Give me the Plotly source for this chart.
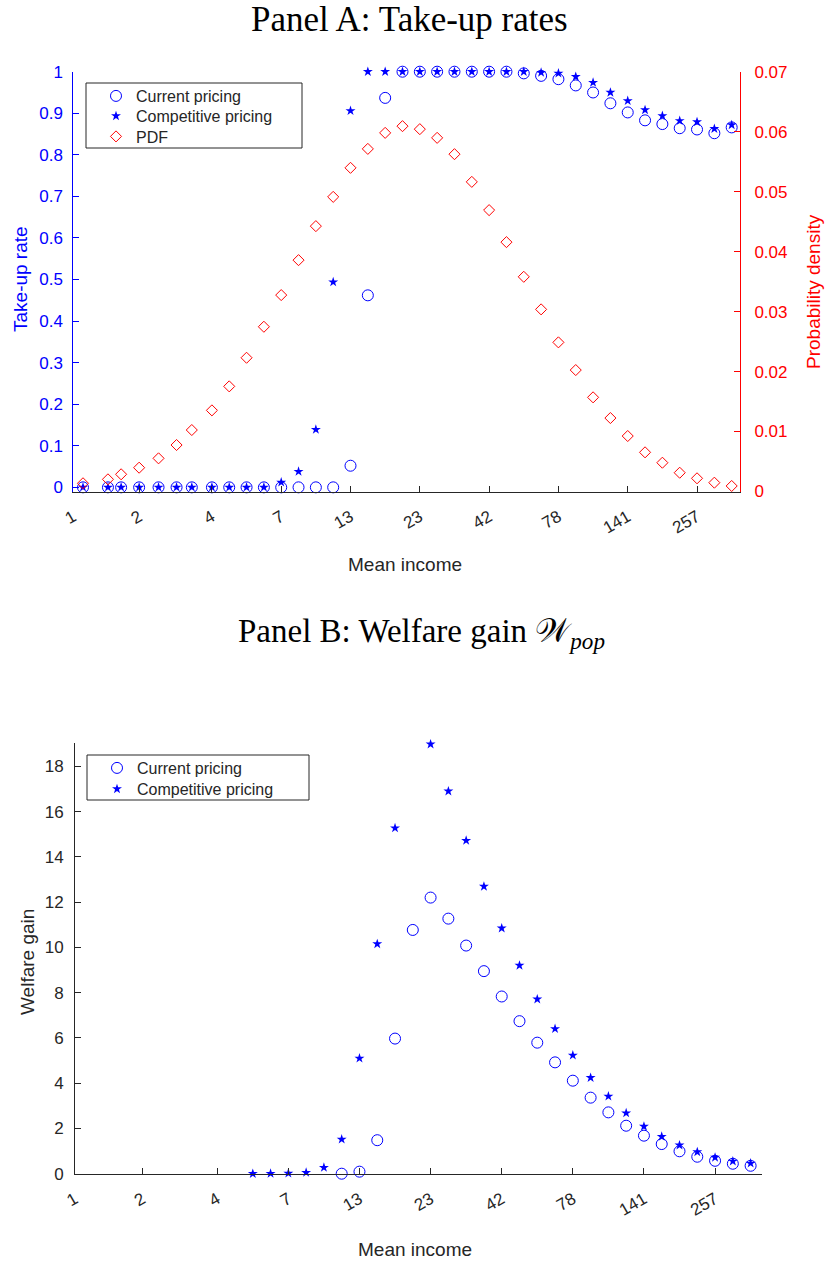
import plotly.graph_objects as go

W, H = 825, 1262

# Mean-income bins: position on the income axis (tick units) and tick labels
income_pos = [0.14, 0.50, 0.69, 0.95, 1.23, 1.49, 1.71, 2.00, 2.25, 2.50,
              2.75, 3.00, 3.25, 3.50, 3.75, 4.00, 4.25, 4.50, 4.75, 5.00,
              5.25, 5.50, 5.75, 6.00, 6.25, 6.50, 6.75, 7.00, 7.25, 7.50,
              7.75, 8.00, 8.25, 8.50, 8.75, 9.00, 9.25, 9.50]
tick_pos = [0.0, 0.95, 2.0, 3.0, 4.0, 5.0, 6.0, 7.0, 8.0, 9.0]
tick_labels = ["1", "2", "4", "7", "13", "23", "42", "78", "141", "257"]

# Panel A: take-up rates and income density
takeup_current = [0, 0, 0, 0, 0, 0, 0, 0, 0, 0,
                  0, 0, 0, 0, 0, 0.052, 0.462, 0.937, 1.0, 1.0,
                  1.0, 1.0, 1.0, 1.0, 1.0, 0.996, 0.990, 0.982, 0.967, 0.950,
                  0.924, 0.902, 0.883, 0.874, 0.864, 0.861, 0.852, 0.866]
takeup_competitive = [0, 0, 0, 0, 0, 0, 0, 0, 0, 0,
                      0, 0.012, 0.038, 0.139, 0.494, 0.906, 1.0, 1.0, 1.0, 1.0,
                      1.0, 1.0, 1.0, 1.0, 1.0, 1.0, 0.998, 0.996, 0.988, 0.974,
                      0.950, 0.930, 0.908, 0.894, 0.882, 0.879, 0.863, 0.872]
pdf = [0.00137, 0.00203, 0.00287, 0.00397, 0.00553, 0.00775, 0.01025, 0.01353,
       0.01753, 0.0223, 0.02747, 0.03275, 0.03858, 0.04425, 0.04913, 0.05397,
       0.05713, 0.0598, 0.06092, 0.06042, 0.05897, 0.05625, 0.05163, 0.04692,
       0.04158, 0.0358, 0.03037, 0.02487, 0.02025, 0.0157, 0.01225, 0.00925,
       0.00653, 0.0048, 0.00313, 0.0022, 0.00147, 0.00092]

# Panel B: population welfare gain (None = not shown)
welfare_current = [None] * 14 + [
    0.0, 0.09, 1.48, 5.97, 10.77, 12.20, 11.27, 10.08, 8.95, 7.83,
    6.74, 5.79, 4.92, 4.11, 3.36, 2.71, 2.12, 1.68, 1.31, 0.99,
    0.75, 0.57, 0.44, 0.35]
welfare_competitive = [None] * 9 + [
    0.0, 0.005, 0.015, 0.05, 0.27, 1.52, 5.1, 10.15, 15.27, None,
    18.98, 16.9, 14.72, 12.69, 10.85, 9.20, 7.71, 6.40, 5.23, 4.24,
    3.42, 2.68, 2.09, 1.64, 1.26, 0.96, 0.72, 0.55, 0.46]

BLUE = "#0000FF"
RED = "#FF0000"
DARK = "#262626"
SANS = "Liberation Sans, Arial, sans-serif"
SERIF = "Liberation Serif, Times New Roman, serif"


def px_x(p):
    return p / W


def px_y(p):
    return 1 - p / H


circle = dict(symbol="circle-open", size=11, color=BLUE, line=dict(width=1, color=BLUE))
star = dict(symbol="star", size=7.5, color=BLUE, line=dict(width=0))
diamond = dict(symbol="diamond-open", size=8.5, color=RED, line=dict(width=1, color=RED))

fig = go.Figure()

# each legend entry gets its own legend box so the rows can be spaced freely
fig.add_trace(go.Scatter(x=income_pos, y=takeup_current, mode="markers", marker=circle,
                         name="Current pricing", xaxis="x", yaxis="y",
                         legend="legend", cliponaxis=False))
fig.add_trace(go.Scatter(x=income_pos, y=takeup_competitive, mode="markers", marker=star,
                         name="Competitive pricing", xaxis="x", yaxis="y",
                         legend="legend2", cliponaxis=False))
fig.add_trace(go.Scatter(x=income_pos, y=pdf, mode="markers", marker=diamond,
                         name="PDF", xaxis="x", yaxis="y2",
                         legend="legend3", cliponaxis=False))

fig.add_trace(go.Scatter(x=income_pos, y=welfare_current, mode="markers", marker=circle,
                         name="Current pricing", xaxis="x2", yaxis="y3",
                         legend="legend4", cliponaxis=False))
fig.add_trace(go.Scatter(x=income_pos, y=welfare_competitive, mode="markers", marker=star,
                         name="Competitive pricing", xaxis="x2", yaxis="y3",
                         legend="legend5", cliponaxis=False))

xcommon = dict(tickmode="array", tickvals=tick_pos, ticktext=tick_labels,
               tickangle=-30, ticks="inside", ticklen=6, tickcolor=DARK,
               showline=True, linecolor=DARK, linewidth=1, showgrid=False,
               zeroline=False, automargin=False, ticklabelstandoff=8,
               tickfont=dict(family=SANS, size=17, color=DARK))

ycommon = dict(ticks="inside", ticklen=6, showline=True, linewidth=1,
               showgrid=False, zeroline=False, automargin=False)


def legend_box(xp, yp):
    return dict(x=px_x(xp), y=px_y(yp), xanchor="left", yanchor="middle",
                bgcolor="rgba(0,0,0,0)", borderwidth=0,
                font=dict(family=SANS, size=16, color=DARK))


fig.update_layout(
    width=W, height=H,
    margin=dict(l=0, r=0, t=0, b=0, autoexpand=False),
    paper_bgcolor="white", plot_bgcolor="white",
    xaxis=dict(domain=[px_x(73.3), px_x(740)], range=[0, 9.62], anchor="y", **xcommon),
    yaxis=dict(domain=[px_y(491.5), px_y(71.7)], range=[-0.01, 1], anchor="x",
               tick0=0, dtick=0.1, linecolor=BLUE, tickcolor=BLUE, ticklabelstandoff=6,
               tickfont=dict(family=SANS, size=17, color=BLUE), **ycommon),
    yaxis2=dict(overlaying="y", side="right", anchor="x", range=[0, 0.07],
                tick0=0, dtick=0.01, linecolor=RED, tickcolor=RED, ticklabelstandoff=10,
                tickfont=dict(family=SANS, size=17, color=RED), **ycommon),
    xaxis2=dict(domain=[px_x(75), px_x(762)], range=[0, 9.66], anchor="y3", **xcommon),
    yaxis3=dict(domain=[px_y(1173.7), px_y(743)], range=[0, 19.03], anchor="x2",
                tick0=0, dtick=2, linecolor=DARK, tickcolor=DARK, ticklabelstandoff=7,
                tickfont=dict(family=SANS, size=17, color=DARK), **ycommon),
    legend=legend_box(96, 96),
    legend2=legend_box(96, 116),
    legend3=legend_box(96, 136.5),
    legend4=legend_box(97, 768),
    legend5=legend_box(97, 789),
    showlegend=True,
)

# legend frames
for (x0, y0, x1, y1) in [(86, 83, 302, 148), (87, 755, 309, 800)]:
    fig.add_shape(type="rect", xref="paper", yref="paper",
                  x0=px_x(x0), x1=px_x(x1), y0=px_y(y1), y1=px_y(y0),
                  fillcolor="white", line=dict(color=DARK, width=1), layer="above")

annotations = [
    dict(text="Panel A: Take-up rates", x=px_x(409), y=px_y(19),
         font=dict(family=SERIF, size=35, color="black")),
    dict(text="Panel B: Welfare gain 𝒲<sub><i>pop</i></sub>", x=px_x(422), y=px_y(633),
         font=dict(family=SERIF, size=33, color="black")),
    dict(text="Mean income", x=px_x(405), y=px_y(565),
         font=dict(family=SANS, size=19, color=DARK)),
    dict(text="Mean income", x=px_x(415), y=px_y(1249),
         font=dict(family=SANS, size=19, color=DARK)),
    dict(text="Take-up rate", x=px_x(21), y=px_y(279), textangle=-90,
         font=dict(family=SANS, size=19, color=BLUE)),
    dict(text="Probability density", x=px_x(814), y=px_y(292), textangle=-90,
         font=dict(family=SANS, size=19, color=RED)),
    dict(text="Welfare gain", x=px_x(27), y=px_y(962), textangle=-90,
         font=dict(family=SANS, size=19, color=DARK)),
]
for a in annotations:
    fig.add_annotation(xref="paper", yref="paper", showarrow=False,
                       xanchor="center", yanchor="middle", **a)

fig.write_html("out.html")
